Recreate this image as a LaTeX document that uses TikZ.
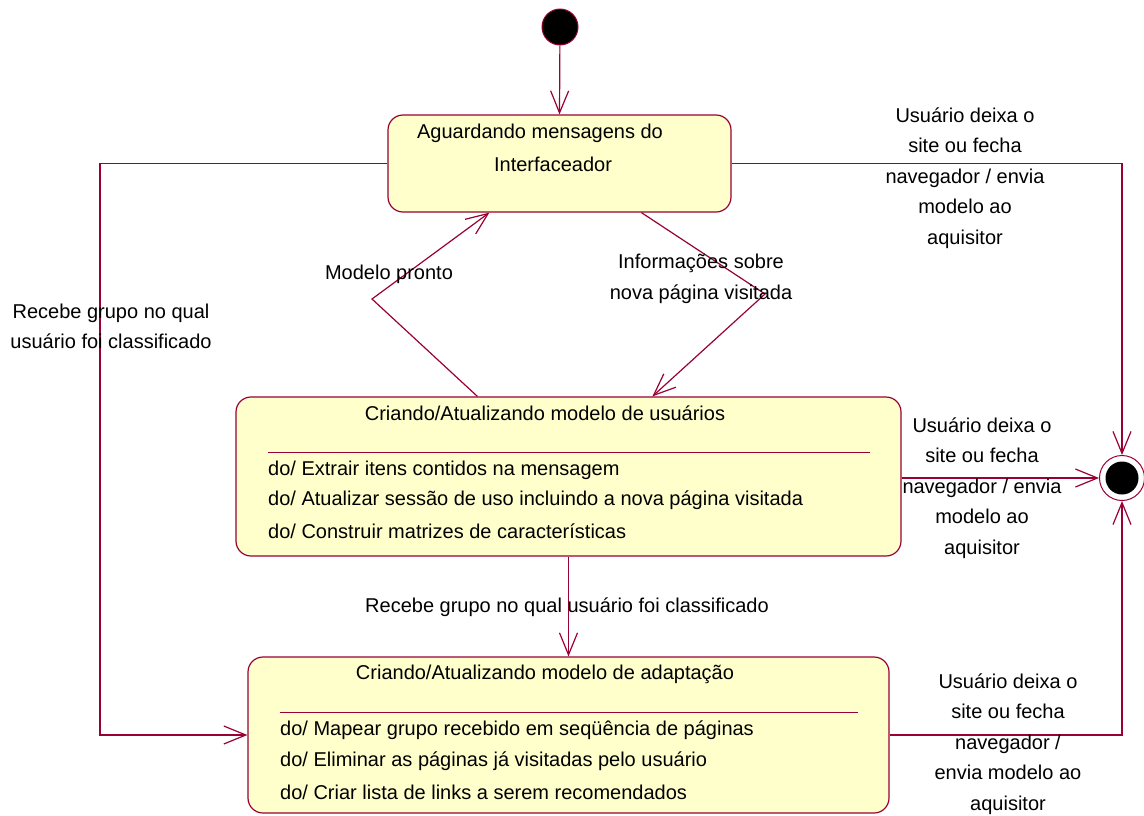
\documentclass[tikz,border=0pt]{standalone}
\usepackage{fontspec}
\setmainfont{Liberation Sans}
\usetikzlibrary{arrows.meta,calc}
\definecolor{uml}{RGB}{153,0,51}
\definecolor{statefill}{RGB}{255,255,204}
\begin{document}
\begin{tikzpicture}[x=1pt,y=-1pt,
  tr/.style={draw=uml, line width=1.2pt, -{Straight Barb[length=22pt,width=18pt]}},
  sepline/.style={draw=uml, line width=1pt},
  state/.style={draw=uml, fill=statefill, line width=1.2pt, rounded corners=15pt, inner sep=0},
  txt/.style={font=\fontsize{20}{30.5}\selectfont, inner sep=0, align=center, yshift=-2pt},
  item/.style={font=\fontsize{20}{24}\selectfont, inner sep=0, anchor=west, yshift=-2pt}]
\useasboundingbox (0,0) rectangle (1144,815);

% states
\node[state, minimum width=343pt, minimum height=97pt] (s1) at (559.5,163.5) {};
\node[state, minimum width=665pt, minimum height=159pt] (s2) at (568.5,476.5) {};
\node[state, minimum width=641pt, minimum height=156pt] (s3) at (568.5,735) {};
\node[circle, draw=uml, fill=black, line width=1pt, minimum size=36pt, inner sep=0] (init) at (560,27) {};
\node[circle, draw=uml, fill=white, line width=1pt, minimum size=45pt, inner sep=0] (fin) at (1122,478) {};
\node[circle, fill=black, minimum size=33pt, inner sep=0] (finin) at (fin) {};

% state texts
\node[txt] (s1a) at (540,131) {Aguardando mensagens do};
\node[txt] (s1b) at (553,162) {Interfaceador};

\node[txt] (s2t) at (545,411) {Criando/Atualizando modelo de usuários};
\draw[sepline] (268,452) -- (870,452);
\node[item] (s2i1) at (268,468) {do/ Extrair itens contidos na mensagem};
\node[item] (s2i2) at (268,498) {do/ Atualizar sessão de uso incluindo a nova página visitada};
\node[item] (s2i3) at (268,529) {do/ Construir matrizes de características};

\node[txt] (s3t) at (545,672) {Criando/Atualizando modelo de adaptação};
\draw[sepline] (280,712) -- (858,712);
\node[item] (s3i1) at (280,728) {do/ Mapear grupo recebido em seqüência de páginas};
\node[item] (s3i2) at (280,759) {do/ Eliminar as páginas já visitadas pelo usuário};
\node[item] (s3i3) at (280,790) {do/ Criar lista de links a serem recomendados};

% helper coordinates
\coordinate (lc) at (100,0);
\coordinate (mp) at (372,299);
\coordinate (ip) at (765,294);

% transitions
\draw[tr] (init) -- (s1.north);
\draw[tr] (s1.east) -- (s1.east -| fin) -- (fin.north);
\draw[tr] (s2.east |- fin) -- (fin.west);
\draw[tr] (s3.east) -- (s3.east -| fin) -- (fin.south);
\draw[tr] (s1.west) -- (s1.west -| lc) |- (s3.west);
\draw[tr] ($(s2.north west)+(242,0)$) -- (mp) -- ($(s1.south west)+(102,0)$);
\draw[tr] ($(s1.south west)+(254,0)$) -- (ip) -- ($(s2.north west)+(417,0)$);
\draw[tr] (s2.south) -- (s3.north);

% transition labels
\node[txt] (l1) at (965,176) {Usuário deixa o\\site ou fecha\\navegador / envia\\modelo ao\\aquisitor};
\node[txt] (l2) at (982,486) {Usuário deixa o\\site ou fecha\\navegador / envia\\modelo ao\\aquisitor};
\node[txt] (l3) at (1008,742) {Usuário deixa o\\site ou fecha\\navegador /\\envia modelo ao\\aquisitor};
\node[txt] (l4) at (111,324.5) {Recebe grupo no qual\\usuário foi classificado};
\node[txt] (l5) at (389,272) {Modelo pronto};
\node[txt] (l6) at (701,277) {Informações sobre\\nova página visitada};
\node[txt] (l7) at (567,605) {Recebe grupo no qual usuário foi classificado};
\end{tikzpicture}
\end{document}
